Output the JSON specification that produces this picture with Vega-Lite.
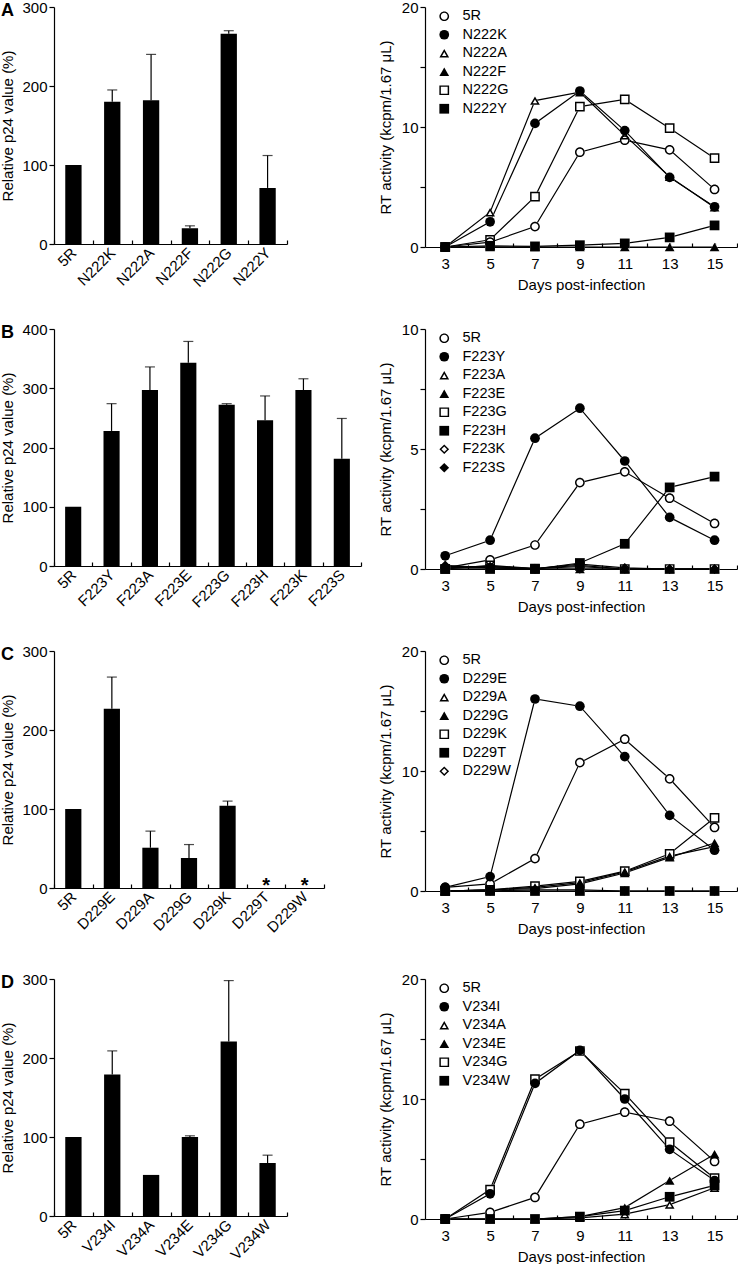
{
  "$schema": "https://vega.github.io/schema/vega-lite/v6.json",
  "background": "white",
  "padding": 0,
  "config": {
    "font": "Liberation Sans",
    "view": {"stroke": null},
    "axis": {"domainColor": "black", "tickColor": "black", "labelColor": "black", "titleColor": "black", "labelFontSize": 15, "titleFontSize": 15, "titleFontWeight": "normal", "grid": false, "domainWidth": 1.2, "tickWidth": 1.2, "labelFont": "Liberation Sans", "titleFont": "Liberation Sans"},
    "legend": {"labelFontSize": 14.5, "labelColor": "black", "labelFont": "Liberation Sans", "orient": "top-left", "title": null, "offset": 2, "padding": 0, "symbolOffset": 10, "labelOffset": 11, "symbolSize": 95, "symbolStrokeWidth": 0, "rowPadding": 3.5},
    "title": {"fontSize": 18, "fontWeight": "bold", "anchor": "start", "color": "black", "font": "Liberation Sans"}
  },
  "resolve": {"scale": {"shape": "independent"}, "legend": {"shape": "independent"}},
  "datasets": {
    "barA": [
      {"mutant": "5R", "value": 100, "upper": null},
      {"mutant": "N222K", "value": 180, "upper": 195},
      {"mutant": "N222A", "value": 182, "upper": 240},
      {"mutant": "N222F", "value": 20, "upper": 23},
      {"mutant": "N222G", "value": 266, "upper": 270},
      {"mutant": "N222Y", "value": 71, "upper": 112}
    ],
    "barB": [
      {"mutant": "5R", "value": 100, "upper": null},
      {"mutant": "F223Y", "value": 228, "upper": 274},
      {"mutant": "F223A", "value": 297, "upper": 336},
      {"mutant": "F223E", "value": 343, "upper": 379},
      {"mutant": "F223G", "value": 272, "upper": 274},
      {"mutant": "F223H", "value": 246, "upper": 287},
      {"mutant": "F223K", "value": 297, "upper": 316},
      {"mutant": "F223S", "value": 181, "upper": 249}
    ],
    "barC": [
      {"mutant": "5R", "value": 100, "upper": null, "star": null},
      {"mutant": "D229E", "value": 227, "upper": 267, "star": null},
      {"mutant": "D229A", "value": 51, "upper": 72, "star": null},
      {"mutant": "D229G", "value": 38, "upper": 55, "star": null},
      {"mutant": "D229K", "value": 104, "upper": 110, "star": null},
      {"mutant": "D229T", "value": 0, "upper": null, "star": "*"},
      {"mutant": "D229W", "value": 0, "upper": null, "star": "*"}
    ],
    "barD": [
      {"mutant": "5R", "value": 100, "upper": null},
      {"mutant": "V234I", "value": 179, "upper": 209},
      {"mutant": "V234A", "value": 52, "upper": null},
      {"mutant": "V234E", "value": 100, "upper": 101.5},
      {"mutant": "V234G", "value": 221, "upper": 298},
      {"mutant": "V234W", "value": 67, "upper": 77}
    ],
    "lineA": [
      {"mutant": "5R", "day": 3, "rt": 0}, {"mutant": "5R", "day": 5, "rt": 0.4}, {"mutant": "5R", "day": 7, "rt": 1.7}, {"mutant": "5R", "day": 9, "rt": 7.9}, {"mutant": "5R", "day": 11, "rt": 8.9}, {"mutant": "5R", "day": 13, "rt": 8.1}, {"mutant": "5R", "day": 15, "rt": 4.8},
      {"mutant": "N222K", "day": 3, "rt": 0}, {"mutant": "N222K", "day": 5, "rt": 2.1}, {"mutant": "N222K", "day": 7, "rt": 10.3}, {"mutant": "N222K", "day": 9, "rt": 13.0}, {"mutant": "N222K", "day": 11, "rt": 9.7}, {"mutant": "N222K", "day": 13, "rt": 5.8}, {"mutant": "N222K", "day": 15, "rt": 3.35},
      {"mutant": "N222A", "day": 3, "rt": 0}, {"mutant": "N222A", "day": 5, "rt": 2.9}, {"mutant": "N222A", "day": 7, "rt": 12.2}, {"mutant": "N222A", "day": 9, "rt": 12.9}, {"mutant": "N222A", "day": 11, "rt": 9.3}, {"mutant": "N222A", "day": 13, "rt": 5.85}, {"mutant": "N222A", "day": 15, "rt": 3.3},
      {"mutant": "N222F", "day": 3, "rt": 0}, {"mutant": "N222F", "day": 5, "rt": 0}, {"mutant": "N222F", "day": 7, "rt": 0}, {"mutant": "N222F", "day": 9, "rt": 0}, {"mutant": "N222F", "day": 11, "rt": 0}, {"mutant": "N222F", "day": 13, "rt": 0}, {"mutant": "N222F", "day": 15, "rt": 0},
      {"mutant": "N222G", "day": 3, "rt": 0}, {"mutant": "N222G", "day": 5, "rt": 0.6}, {"mutant": "N222G", "day": 7, "rt": 4.2}, {"mutant": "N222G", "day": 9, "rt": 11.7}, {"mutant": "N222G", "day": 11, "rt": 12.3}, {"mutant": "N222G", "day": 13, "rt": 9.9}, {"mutant": "N222G", "day": 15, "rt": 7.4},
      {"mutant": "N222Y", "day": 3, "rt": 0}, {"mutant": "N222Y", "day": 5, "rt": 0.1}, {"mutant": "N222Y", "day": 7, "rt": 0.05}, {"mutant": "N222Y", "day": 9, "rt": 0.15}, {"mutant": "N222Y", "day": 11, "rt": 0.3}, {"mutant": "N222Y", "day": 13, "rt": 0.8}, {"mutant": "N222Y", "day": 15, "rt": 1.8}
    ],
    "lineB": [
      {"mutant": "5R", "day": 3, "rt": 0.05}, {"mutant": "5R", "day": 5, "rt": 0.38}, {"mutant": "5R", "day": 7, "rt": 1.0}, {"mutant": "5R", "day": 9, "rt": 3.6}, {"mutant": "5R", "day": 11, "rt": 4.05}, {"mutant": "5R", "day": 13, "rt": 2.95}, {"mutant": "5R", "day": 15, "rt": 1.9},
      {"mutant": "F223Y", "day": 3, "rt": 0.55}, {"mutant": "F223Y", "day": 5, "rt": 1.2}, {"mutant": "F223Y", "day": 7, "rt": 5.45}, {"mutant": "F223Y", "day": 9, "rt": 6.7}, {"mutant": "F223Y", "day": 11, "rt": 4.5}, {"mutant": "F223Y", "day": 13, "rt": 2.15}, {"mutant": "F223Y", "day": 15, "rt": 1.2},
      {"mutant": "F223A", "day": 3, "rt": 0.1}, {"mutant": "F223A", "day": 5, "rt": 0.1}, {"mutant": "F223A", "day": 7, "rt": 0.02}, {"mutant": "F223A", "day": 9, "rt": 0.1}, {"mutant": "F223A", "day": 11, "rt": 0}, {"mutant": "F223A", "day": 13, "rt": 0}, {"mutant": "F223A", "day": 15, "rt": 0},
      {"mutant": "F223E", "day": 3, "rt": 0.05}, {"mutant": "F223E", "day": 5, "rt": 0.05}, {"mutant": "F223E", "day": 7, "rt": 0}, {"mutant": "F223E", "day": 9, "rt": 0}, {"mutant": "F223E", "day": 11, "rt": 0}, {"mutant": "F223E", "day": 13, "rt": 0}, {"mutant": "F223E", "day": 15, "rt": 0},
      {"mutant": "F223G", "day": 3, "rt": 0}, {"mutant": "F223G", "day": 5, "rt": 0.15}, {"mutant": "F223G", "day": 7, "rt": 0.02}, {"mutant": "F223G", "day": 9, "rt": 0.15}, {"mutant": "F223G", "day": 11, "rt": 0}, {"mutant": "F223G", "day": 13, "rt": 0}, {"mutant": "F223G", "day": 15, "rt": 0},
      {"mutant": "F223H", "day": 3, "rt": 0}, {"mutant": "F223H", "day": 5, "rt": 0}, {"mutant": "F223H", "day": 7, "rt": 0}, {"mutant": "F223H", "day": 9, "rt": 0.25}, {"mutant": "F223H", "day": 11, "rt": 1.05}, {"mutant": "F223H", "day": 13, "rt": 3.4}, {"mutant": "F223H", "day": 15, "rt": 3.85},
      {"mutant": "F223K", "day": 3, "rt": 0.05}, {"mutant": "F223K", "day": 5, "rt": 0.1}, {"mutant": "F223K", "day": 7, "rt": 0.02}, {"mutant": "F223K", "day": 9, "rt": 0.2}, {"mutant": "F223K", "day": 11, "rt": 0.05}, {"mutant": "F223K", "day": 13, "rt": 0}, {"mutant": "F223K", "day": 15, "rt": 0},
      {"mutant": "F223S", "day": 3, "rt": 0.15}, {"mutant": "F223S", "day": 5, "rt": 0.05}, {"mutant": "F223S", "day": 7, "rt": 0}, {"mutant": "F223S", "day": 9, "rt": 0}, {"mutant": "F223S", "day": 11, "rt": 0}, {"mutant": "F223S", "day": 13, "rt": 0}, {"mutant": "F223S", "day": 15, "rt": 0}
    ],
    "lineC": [
      {"mutant": "5R", "day": 3, "rt": 0.3}, {"mutant": "5R", "day": 5, "rt": 0.6}, {"mutant": "5R", "day": 7, "rt": 2.7}, {"mutant": "5R", "day": 9, "rt": 10.7}, {"mutant": "5R", "day": 11, "rt": 12.65}, {"mutant": "5R", "day": 13, "rt": 9.35}, {"mutant": "5R", "day": 15, "rt": 5.3},
      {"mutant": "D229E", "day": 3, "rt": 0.3}, {"mutant": "D229E", "day": 5, "rt": 1.2}, {"mutant": "D229E", "day": 7, "rt": 16.0}, {"mutant": "D229E", "day": 9, "rt": 15.4}, {"mutant": "D229E", "day": 11, "rt": 11.2}, {"mutant": "D229E", "day": 13, "rt": 6.3}, {"mutant": "D229E", "day": 15, "rt": 3.4},
      {"mutant": "D229A", "day": 3, "rt": 0}, {"mutant": "D229A", "day": 5, "rt": 0.1}, {"mutant": "D229A", "day": 7, "rt": 0.3}, {"mutant": "D229A", "day": 9, "rt": 0.7}, {"mutant": "D229A", "day": 11, "rt": 1.6}, {"mutant": "D229A", "day": 13, "rt": 2.9}, {"mutant": "D229A", "day": 15, "rt": 3.7},
      {"mutant": "D229G", "day": 3, "rt": 0}, {"mutant": "D229G", "day": 5, "rt": 0.1}, {"mutant": "D229G", "day": 7, "rt": 0.2}, {"mutant": "D229G", "day": 9, "rt": 0.6}, {"mutant": "D229G", "day": 11, "rt": 1.5}, {"mutant": "D229G", "day": 13, "rt": 2.8}, {"mutant": "D229G", "day": 15, "rt": 4.0},
      {"mutant": "D229K", "day": 3, "rt": 0}, {"mutant": "D229K", "day": 5, "rt": 0.1}, {"mutant": "D229K", "day": 7, "rt": 0.4}, {"mutant": "D229K", "day": 9, "rt": 0.8}, {"mutant": "D229K", "day": 11, "rt": 1.65}, {"mutant": "D229K", "day": 13, "rt": 3.1}, {"mutant": "D229K", "day": 15, "rt": 6.1},
      {"mutant": "D229T", "day": 3, "rt": 0}, {"mutant": "D229T", "day": 5, "rt": 0}, {"mutant": "D229T", "day": 7, "rt": 0}, {"mutant": "D229T", "day": 9, "rt": 0}, {"mutant": "D229T", "day": 11, "rt": 0}, {"mutant": "D229T", "day": 13, "rt": 0}, {"mutant": "D229T", "day": 15, "rt": 0},
      {"mutant": "D229W", "day": 3, "rt": 0}, {"mutant": "D229W", "day": 5, "rt": 0}, {"mutant": "D229W", "day": 7, "rt": 0.1}, {"mutant": "D229W", "day": 9, "rt": 0.1}, {"mutant": "D229W", "day": 11, "rt": 0}, {"mutant": "D229W", "day": 13, "rt": 0}, {"mutant": "D229W", "day": 15, "rt": 0}
    ],
    "lineD": [
      {"mutant": "5R", "day": 3, "rt": 0}, {"mutant": "5R", "day": 5, "rt": 0.55}, {"mutant": "5R", "day": 7, "rt": 1.8}, {"mutant": "5R", "day": 9, "rt": 7.9}, {"mutant": "5R", "day": 11, "rt": 8.9}, {"mutant": "5R", "day": 13, "rt": 8.15}, {"mutant": "5R", "day": 15, "rt": 4.8},
      {"mutant": "V234I", "day": 3, "rt": 0}, {"mutant": "V234I", "day": 5, "rt": 2.1}, {"mutant": "V234I", "day": 7, "rt": 11.3}, {"mutant": "V234I", "day": 9, "rt": 14.05}, {"mutant": "V234I", "day": 11, "rt": 10.0}, {"mutant": "V234I", "day": 13, "rt": 5.8}, {"mutant": "V234I", "day": 15, "rt": 3.2},
      {"mutant": "V234A", "day": 3, "rt": 0}, {"mutant": "V234A", "day": 5, "rt": 0}, {"mutant": "V234A", "day": 7, "rt": 0}, {"mutant": "V234A", "day": 9, "rt": 0.1}, {"mutant": "V234A", "day": 11, "rt": 0.4}, {"mutant": "V234A", "day": 13, "rt": 1.2}, {"mutant": "V234A", "day": 15, "rt": 2.6},
      {"mutant": "V234E", "day": 3, "rt": 0}, {"mutant": "V234E", "day": 5, "rt": 0}, {"mutant": "V234E", "day": 7, "rt": 0}, {"mutant": "V234E", "day": 9, "rt": 0.2}, {"mutant": "V234E", "day": 11, "rt": 0.95}, {"mutant": "V234E", "day": 13, "rt": 3.2}, {"mutant": "V234E", "day": 15, "rt": 5.4},
      {"mutant": "V234G", "day": 3, "rt": 0}, {"mutant": "V234G", "day": 5, "rt": 2.45}, {"mutant": "V234G", "day": 7, "rt": 11.65}, {"mutant": "V234G", "day": 9, "rt": 14.0}, {"mutant": "V234G", "day": 11, "rt": 10.45}, {"mutant": "V234G", "day": 13, "rt": 6.4}, {"mutant": "V234G", "day": 15, "rt": 3.4},
      {"mutant": "V234W", "day": 3, "rt": 0}, {"mutant": "V234W", "day": 5, "rt": 0}, {"mutant": "V234W", "day": 7, "rt": 0}, {"mutant": "V234W", "day": 9, "rt": 0.2}, {"mutant": "V234W", "day": 11, "rt": 0.7}, {"mutant": "V234W", "day": 13, "rt": 1.85}, {"mutant": "V234W", "day": 15, "rt": 2.8}
    ]
  },
  "spacing": 30,
  "vconcat": [
    {
      "spacing": 90,
      "resolve": {"scale": {"shape": "independent"}, "legend": {"shape": "independent"}},
      "hconcat": [
        {
          "width": 233, "height": 237,
          "title": {"text": "A", "frame": "bounds", "offset": -20},
          "data": {"name": "barA"},
          "encoding": {
            "x": {"field": "mutant", "type": "nominal", "sort": null, "scale": {"paddingInner": 0, "paddingOuter": 0}, "axis": {"title": null, "labelAngle": -45, "labelAlign": "right", "labelBaseline": "middle", "tickBand": "extent", "tickSize": -4, "labelPadding": 10}}
          },
          "layer": [
            {"mark": {"type": "bar", "color": "black", "width": {"band": 0.42}},
             "encoding": {"y": {"field": "value", "type": "quantitative", "scale": {"domain": [0, 300]}, "axis": {"title": "Relative p24 value (%)", "values": [0, 100, 200, 300], "tickSize": 5, "titlePadding": 6}}}},
            {"transform": [{"filter": "isValid(datum.upper)"}], "mark": {"type": "rule", "color": "black", "strokeWidth": 1.2},
             "encoding": {"y": {"field": "value", "type": "quantitative"}, "y2": {"field": "upper"}}},
            {"transform": [{"filter": "isValid(datum.upper)"}], "mark": {"type": "tick", "color": "black", "size": 10, "thickness": 1.2},
             "encoding": {"y": {"field": "upper", "type": "quantitative"}}}
          ]
        },
        {
          "width": 312, "height": 240,
          "data": {"name": "lineA"},
          "resolve": {"scale": {"shape": "independent"}, "legend": {"shape": "independent"}},
          "encoding": {
            "x": {"field": "day", "type": "quantitative", "scale": {"domain": [2.1, 16], "nice": false}, "axis": {"title": "Days post-infection", "values": [3,4,5,6,7,8,9,10,11,12,13,14,15,16], "labelExpr": "datum.value % 2 == 1 ? datum.label : ''", "tickSize": -4, "labelPadding": 13, "titlePadding": 6}},
            "y": {"field": "rt", "type": "quantitative", "scale": {"domain": [0, 20]}, "axis": {"title": "RT activity (kcpm/1.67 μL)", "values": [0, 5, 10, 15, 20], "labelExpr": "datum.value % 10 == 0 ? datum.label : ''", "tickSize": 5, "titlePadding": 8}}
          },
          "layer": [
            {"mark": {"type": "line", "color": "black", "strokeWidth": 1.2}, "encoding": {"detail": {"field": "mutant"}}},
            {"mark": {"type": "point", "filled": true, "color": "white", "strokeWidth": 0, "size": 95, "opacity": 1},
             "encoding": {"shape": {"field": "mutant", "type": "nominal", "scale": {"domain": ["5R", "N222K", "N222A", "N222F", "N222G", "N222Y"], "range": ["circle", "circle", "triangle-up", "triangle-up", "square", "square"]}, "legend": null}}},
            {"mark": {"type": "point", "filled": true, "color": "black", "strokeWidth": 0, "size": 95, "opacity": 1},
             "encoding": {"shape": {"field": "mutant", "type": "nominal", "scale": {"domain": ["5R", "N222K", "N222A", "N222F", "N222G", "N222Y"], "range": ["M1,0A1,1 0 1,1 -1,0A1,1 0 1,1 1,0ZM0.7,0A0.7,0.7 0 1,0 -0.7,0A0.7,0.7 0 1,0 0.7,0Z", "circle", "M0,-0.866L-1,0.866L1,0.866ZM0,-0.25L0.46,0.55L-0.46,0.55Z", "triangle-up", "M-1,-1H1V1H-1ZM-0.7,-0.7V0.7H0.7V-0.7Z", "square"]}}}}
          ]
        }
      ]
    },
    {
      "spacing": 16,
      "resolve": {"scale": {"shape": "independent"}, "legend": {"shape": "independent"}},
      "hconcat": [
        {
          "width": 307, "height": 237,
          "title": {"text": "B", "frame": "bounds", "offset": -20},
          "data": {"name": "barB"},
          "encoding": {
            "x": {"field": "mutant", "type": "nominal", "sort": null, "scale": {"paddingInner": 0, "paddingOuter": 0}, "axis": {"title": null, "labelAngle": -45, "labelAlign": "right", "labelBaseline": "middle", "tickBand": "extent", "tickSize": -4, "labelPadding": 10}}
          },
          "layer": [
            {"mark": {"type": "bar", "color": "black", "width": {"band": 0.42}},
             "encoding": {"y": {"field": "value", "type": "quantitative", "scale": {"domain": [0, 400]}, "axis": {"title": "Relative p24 value (%)", "values": [0, 100, 200, 300, 400], "tickSize": 5, "titlePadding": 6}}}},
            {"transform": [{"filter": "isValid(datum.upper)"}], "mark": {"type": "rule", "color": "black", "strokeWidth": 1.2},
             "encoding": {"y": {"field": "value", "type": "quantitative"}, "y2": {"field": "upper"}}},
            {"transform": [{"filter": "isValid(datum.upper)"}], "mark": {"type": "tick", "color": "black", "size": 10, "thickness": 1.2},
             "encoding": {"y": {"field": "upper", "type": "quantitative"}}}
          ]
        },
        {
          "width": 312, "height": 240,
          "data": {"name": "lineB"},
          "resolve": {"scale": {"shape": "independent"}, "legend": {"shape": "independent"}},
          "encoding": {
            "x": {"field": "day", "type": "quantitative", "scale": {"domain": [2.1, 16], "nice": false}, "axis": {"title": "Days post-infection", "values": [3,4,5,6,7,8,9,10,11,12,13,14,15,16], "labelExpr": "datum.value % 2 == 1 ? datum.label : ''", "tickSize": -4, "labelPadding": 13, "titlePadding": 6}},
            "y": {"field": "rt", "type": "quantitative", "scale": {"domain": [0, 10]}, "axis": {"title": "RT activity (kcpm/1.67 μL)", "values": [0, 2.5, 5, 7.5, 10], "labelExpr": "datum.value % 5 == 0 ? datum.label : ''", "tickSize": 5, "titlePadding": 8}}
          },
          "layer": [
            {"mark": {"type": "line", "color": "black", "strokeWidth": 1.2}, "encoding": {"detail": {"field": "mutant"}}},
            {"mark": {"type": "point", "filled": true, "color": "white", "strokeWidth": 0, "size": 95, "opacity": 1},
             "encoding": {"shape": {"field": "mutant", "type": "nominal", "scale": {"domain": ["5R", "F223Y", "F223A", "F223E", "F223G", "F223H", "F223K", "F223S"], "range": ["circle", "circle", "triangle-up", "triangle-up", "square", "square", "diamond", "diamond"]}, "legend": null}}},
            {"mark": {"type": "point", "filled": true, "color": "black", "strokeWidth": 0, "size": 95, "opacity": 1},
             "encoding": {"shape": {"field": "mutant", "type": "nominal", "scale": {"domain": ["5R", "F223Y", "F223A", "F223E", "F223G", "F223H", "F223K", "F223S"], "range": ["M1,0A1,1 0 1,1 -1,0A1,1 0 1,1 1,0ZM0.7,0A0.7,0.7 0 1,0 -0.7,0A0.7,0.7 0 1,0 0.7,0Z", "circle", "M0,-0.866L-1,0.866L1,0.866ZM0,-0.25L0.46,0.55L-0.46,0.55Z", "triangle-up", "M-1,-1H1V1H-1ZM-0.7,-0.7V0.7H0.7V-0.7Z", "square", "M0,-1L1,0L0,1L-1,0ZM0,-0.58L-0.58,0L0,0.58L0.58,0Z", "diamond"]}}}}
          ]
        }
      ]
    },
    {
      "spacing": 36,
      "vconcat": [
        {
          "spacing": 53,
          "resolve": {"scale": {"shape": "independent"}, "legend": {"shape": "independent"}},
          "hconcat": [
            {
              "width": 270, "height": 237,
              "title": {"text": "C", "frame": "bounds", "offset": -20},
              "data": {"name": "barC"},
              "encoding": {
                "x": {"field": "mutant", "type": "nominal", "sort": null, "scale": {"paddingInner": 0, "paddingOuter": 0}, "axis": {"title": null, "labelAngle": -45, "labelAlign": "right", "labelBaseline": "middle", "tickBand": "extent", "tickSize": -4, "labelPadding": 10}}
              },
              "layer": [
                {"mark": {"type": "bar", "color": "black", "width": {"band": 0.42}},
                 "encoding": {"y": {"field": "value", "type": "quantitative", "scale": {"domain": [0, 300]}, "axis": {"title": "Relative p24 value (%)", "values": [0, 100, 200, 300], "tickSize": 5, "titlePadding": 6}}}},
                {"transform": [{"filter": "isValid(datum.upper)"}], "mark": {"type": "rule", "color": "black", "strokeWidth": 1.2},
                 "encoding": {"y": {"field": "value", "type": "quantitative"}, "y2": {"field": "upper"}}},
                {"transform": [{"filter": "isValid(datum.upper)"}], "mark": {"type": "tick", "color": "black", "size": 10, "thickness": 1.2},
                 "encoding": {"y": {"field": "upper", "type": "quantitative"}}},
                {"transform": [{"filter": "isValid(datum.star)"}], "mark": {"type": "text", "fill": "black", "fontSize": 20, "fontWeight": "bold", "baseline": "bottom", "dy": 8},
                 "encoding": {"y": {"field": "value", "type": "quantitative"}, "text": {"field": "star"}}}
              ]
            },
            {
              "width": 312, "height": 240,
              "data": {"name": "lineC"},
              "resolve": {"scale": {"shape": "independent"}, "legend": {"shape": "independent"}},
              "encoding": {
                "x": {"field": "day", "type": "quantitative", "scale": {"domain": [2.1, 16], "nice": false}, "axis": {"title": "Days post-infection", "values": [3,4,5,6,7,8,9,10,11,12,13,14,15,16], "labelExpr": "datum.value % 2 == 1 ? datum.label : ''", "tickSize": -4, "labelPadding": 13, "titlePadding": 6}},
                "y": {"field": "rt", "type": "quantitative", "scale": {"domain": [0, 20]}, "axis": {"title": "RT activity (kcpm/1.67 μL)", "values": [0, 5, 10, 15, 20], "labelExpr": "datum.value % 10 == 0 ? datum.label : ''", "tickSize": 5, "titlePadding": 8}}
              },
              "layer": [
                {"mark": {"type": "line", "color": "black", "strokeWidth": 1.2}, "encoding": {"detail": {"field": "mutant"}}},
                {"mark": {"type": "point", "filled": true, "color": "white", "strokeWidth": 0, "size": 95, "opacity": 1},
                 "encoding": {"shape": {"field": "mutant", "type": "nominal", "scale": {"domain": ["5R", "D229E", "D229A", "D229G", "D229K", "D229T", "D229W"], "range": ["circle", "circle", "triangle-up", "triangle-up", "square", "square", "diamond"]}, "legend": null}}},
                {"mark": {"type": "point", "filled": true, "color": "black", "strokeWidth": 0, "size": 95, "opacity": 1},
                 "encoding": {"shape": {"field": "mutant", "type": "nominal", "scale": {"domain": ["5R", "D229E", "D229A", "D229G", "D229K", "D229T", "D229W"], "range": ["M1,0A1,1 0 1,1 -1,0A1,1 0 1,1 1,0ZM0.7,0A0.7,0.7 0 1,0 -0.7,0A0.7,0.7 0 1,0 0.7,0Z", "circle", "M0,-0.866L-1,0.866L1,0.866ZM0,-0.25L0.46,0.55L-0.46,0.55Z", "triangle-up", "M-1,-1H1V1H-1ZM-0.7,-0.7V0.7H0.7V-0.7Z", "square", "M0,-1L1,0L0,1L-1,0ZM0,-0.58L-0.58,0L0,0.58L0.58,0Z"]}}}}
              ]
            }
          ]
        },
        {
          "spacing": 90,
          "resolve": {"scale": {"shape": "independent"}, "legend": {"shape": "independent"}},
          "hconcat": [
            {
              "width": 233, "height": 237,
              "title": {"text": "D", "frame": "bounds", "offset": -20},
              "data": {"name": "barD"},
              "encoding": {
                "x": {"field": "mutant", "type": "nominal", "sort": null, "scale": {"paddingInner": 0, "paddingOuter": 0}, "axis": {"title": null, "labelAngle": -45, "labelAlign": "right", "labelBaseline": "middle", "tickBand": "extent", "tickSize": -4, "labelPadding": 10}}
              },
              "layer": [
                {"mark": {"type": "bar", "color": "black", "width": {"band": 0.42}},
                 "encoding": {"y": {"field": "value", "type": "quantitative", "scale": {"domain": [0, 300]}, "axis": {"title": "Relative p24 value (%)", "values": [0, 100, 200, 300], "tickSize": 5, "titlePadding": 6}}}},
                {"transform": [{"filter": "isValid(datum.upper)"}], "mark": {"type": "rule", "color": "black", "strokeWidth": 1.2},
                 "encoding": {"y": {"field": "value", "type": "quantitative"}, "y2": {"field": "upper"}}},
                {"transform": [{"filter": "isValid(datum.upper)"}], "mark": {"type": "tick", "color": "black", "size": 10, "thickness": 1.2},
                 "encoding": {"y": {"field": "upper", "type": "quantitative"}}}
              ]
            },
            {
              "width": 312, "height": 240,
              "data": {"name": "lineD"},
              "resolve": {"scale": {"shape": "independent"}, "legend": {"shape": "independent"}},
              "encoding": {
                "x": {"field": "day", "type": "quantitative", "scale": {"domain": [2.1, 16], "nice": false}, "axis": {"title": "Days post-infection", "values": [3,4,5,6,7,8,9,10,11,12,13,14,15,16], "labelExpr": "datum.value % 2 == 1 ? datum.label : ''", "tickSize": -4, "labelPadding": 13, "titlePadding": 6}},
                "y": {"field": "rt", "type": "quantitative", "scale": {"domain": [0, 20]}, "axis": {"title": "RT activity (kcpm/1.67 μL)", "values": [0, 5, 10, 15, 20], "labelExpr": "datum.value % 10 == 0 ? datum.label : ''", "tickSize": 5, "titlePadding": 8}}
              },
              "layer": [
                {"mark": {"type": "line", "color": "black", "strokeWidth": 1.2}, "encoding": {"detail": {"field": "mutant"}}},
                {"mark": {"type": "point", "filled": true, "color": "white", "strokeWidth": 0, "size": 95, "opacity": 1},
                 "encoding": {"shape": {"field": "mutant", "type": "nominal", "scale": {"domain": ["5R", "V234I", "V234A", "V234E", "V234G", "V234W"], "range": ["circle", "circle", "triangle-up", "triangle-up", "square", "square"]}, "legend": null}}},
                {"mark": {"type": "point", "filled": true, "color": "black", "strokeWidth": 0, "size": 95, "opacity": 1},
                 "encoding": {"shape": {"field": "mutant", "type": "nominal", "scale": {"domain": ["5R", "V234I", "V234A", "V234E", "V234G", "V234W"], "range": ["M1,0A1,1 0 1,1 -1,0A1,1 0 1,1 1,0ZM0.7,0A0.7,0.7 0 1,0 -0.7,0A0.7,0.7 0 1,0 0.7,0Z", "circle", "M0,-0.866L-1,0.866L1,0.866ZM0,-0.25L0.46,0.55L-0.46,0.55Z", "triangle-up", "M-1,-1H1V1H-1ZM-0.7,-0.7V0.7H0.7V-0.7Z", "square"]}}}}
              ]
            }
          ]
        }
      ]
    }
  ]
}
